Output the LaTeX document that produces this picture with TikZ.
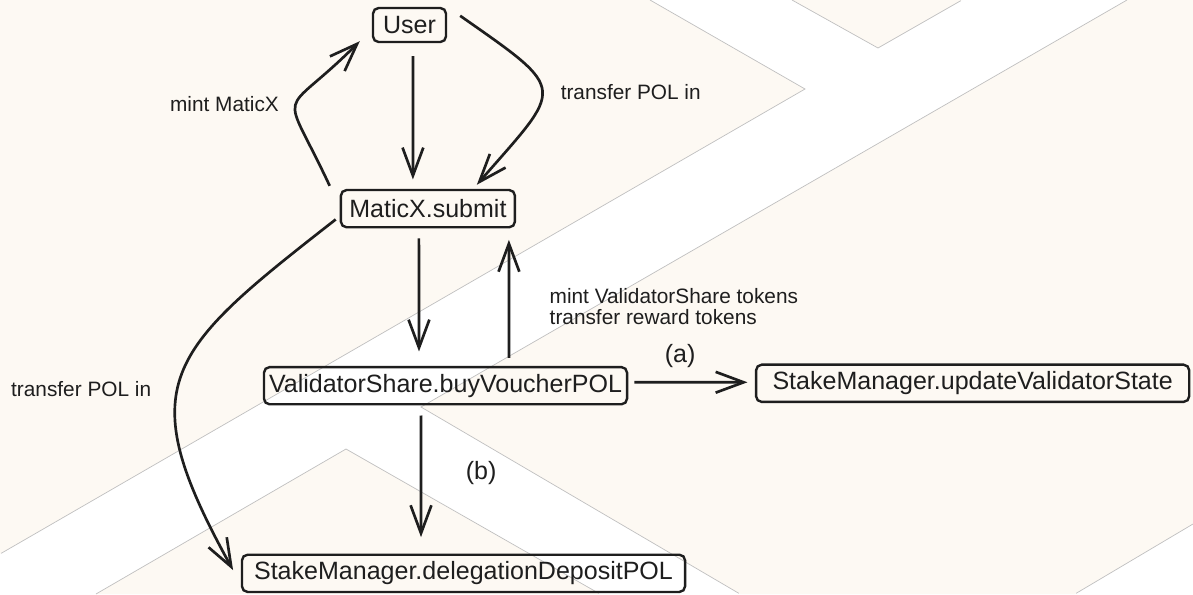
\documentclass[tikz,border=0pt]{standalone}
\usepackage{fontspec}
\setmainfont{Liberation Sans}
\usetikzlibrary{arrows.meta,calc,positioning}
\definecolor{paper}{RGB}{253,249,243}
\definecolor{seam}{RGB}{192,192,192}
\definecolor{ink}{RGB}{30,30,30}

\begin{document}
\begin{tikzpicture}[x=0.025cm,y=-0.025cm,>={Straight Barb[length=0.7cm,width=0.52cm]},shorten >=1pt,
  box/.style={draw=ink,line width=1.7pt,rounded corners=4pt,minimum height=0.93cm,inner sep=2pt,
    font=\fontsize{17.8}{20}\selectfont,text=ink},
  flow/.style={->,draw=ink,line width=1.9pt},
  lbl/.style={inner sep=1pt,font=\fontsize{14.8}{15.6}\selectfont,text=ink,align=left},
  tag/.style={inner sep=1pt,font=\fontsize{17.8}{20}\selectfont,text=ink},
  seamline/.style={draw=seam,line width=0.5pt}]

\useasboundingbox (0,0) rectangle (1193,594);
\fill[white] (0,0) rectangle (1193,594);
\fill[paper] (0,0) -- (650,0) -- (805,89) -- (0,554) -- cycle;
\fill[paper] (792,0) -- (878,48) -- (962,0) -- cycle;
\fill[paper] (1127,0) -- (1193,0) -- (1193,524) -- (1075,594) -- (740,594) -- (421,407) -- cycle;
\fill[paper] (96,594) -- (346,449) -- (600,594) -- cycle;
\draw[seamline] (650,0) -- (805,89) -- (0,554);
\draw[seamline] (792,0) -- (878,48) -- (962,0);
\draw[seamline] (1127,0) -- (421,407) -- (740,594);
\draw[seamline] (1193,524) -- (1075,594);
\draw[seamline] (96,594) -- (346,449) -- (600,594);

\node[box,minimum width=1.825cm,minimum height=0.85cm] (user) at (409.5,25) {User};
  \node[box,minimum width=4.35cm] (submit) [node distance=4.59cm,below of=user,xshift=0.46cm] {MaticX.submit};
  \node[box,minimum width=9.075cm] (buy) [node distance=4.425cm,below of=submit,xshift=0.44cm] {ValidatorShare.buyVoucherPOL};
  \node[box,minimum width=10.825cm] (update) [node distance=13.175cm,right of=buy,yshift=0.06cm] {StakeManager.updateValidatorState};
  \node[box,minimum width=11.075cm] (deposit) [node distance=4.69cm,below of=buy,xshift=0.45cm] {StakeManager.delegationDepositPOL};

\draw[flow] ($(user.south)+(3.5,13)$) -- ($(submit.north)+(-15,-8)$);
\draw[flow] ($(submit.north west)+(-10,-3)$) to[out=115,in=225,looseness=2]
    node[lbl,pos=0.5,left=0.36cm] {mint MaticX} ($(user.south west)+(-11,-3)$);
\draw[flow] ($(user.north east)+(13,9)$) to[out=-35,in=49,looseness=2]
    node[lbl,pos=0.5,right=0.4cm] {transfer POL in} ($(submit.north)+(48,-3)$);
\draw[flow] ($(submit.south)+(-9,10)$) -- ($(buy.north)+(-26.5,-13)$);
\draw[flow] ($(buy.north)+(63.5,-8)$) -- node[lbl,pos=0.43,right=0.95cm] {mint ValidatorShare tokens\\transfer reward tokens} ($(submit.south)+(81,10)$);
\draw[flow] ($(submit.south west)+(-4,-9)$) to[out=218,in=119,looseness=1.5]
    node[lbl,pos=0.55,left=0.6cm] {transfer POL in} ($(deposit.west)+(-7,-2)$);
\draw[flow] ($(buy.east)+(6,-3.5)$) -- node[tag,pos=0.4,above=0.3cm] {(a)} ($(update.west)+(-6,-1)$);
\draw[flow] ($(buy.south)+(-24.5,10)$) -- node[tag,pos=0.47,right=1.05cm] {(b)} ($(deposit.north)+(-42.5,-15)$);
\end{tikzpicture}
\end{document}
